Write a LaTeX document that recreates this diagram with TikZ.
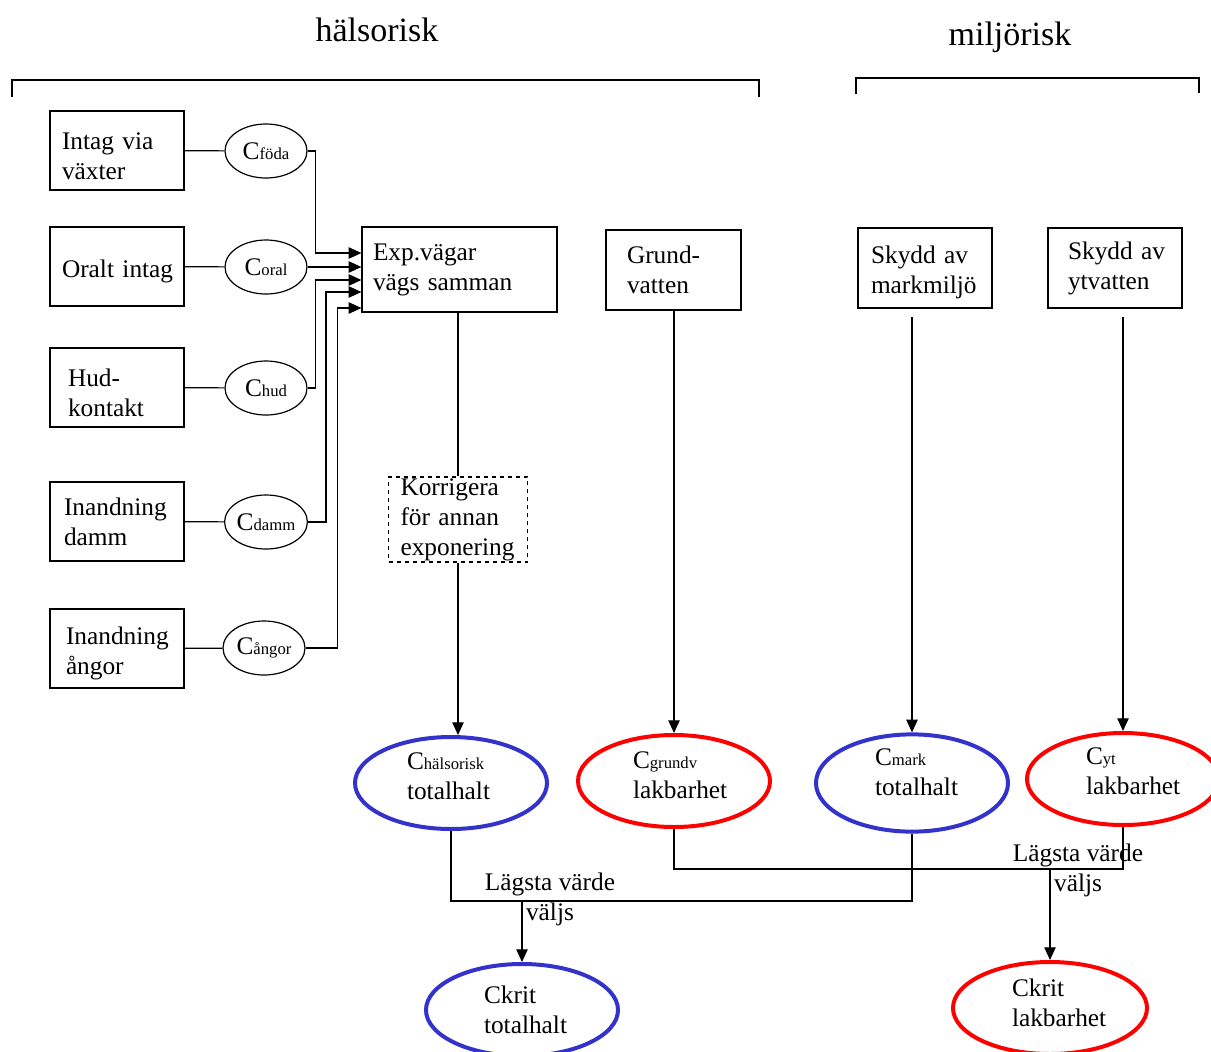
\documentclass[tikz,border=0pt]{standalone}
\usepackage{fontspec}
\setmainfont{Liberation Serif}
\usetikzlibrary{shapes.geometric,arrows.meta,calc}
\definecolor{totblue}{RGB}{51,51,204}
\newcommand\sm[1]{{\fontsize{12.5}{14}\selectfont #1}}
\newcommand\dn{\mbox{}\\[-2pt]}
\hyphenpenalty=10000

\begin{document}
\begin{tikzpicture}[x=0.75pt,y=-0.75pt,line width=0.9pt,
  font=\fontsize{19}{22.5}\selectfont,
  box/.style={draw,rectangle,minimum width=100.5pt,minimum height=59.25pt,align=left,inner sep=0pt},
  cval/.style={draw,ellipse,minimum width=61.5pt,minimum height=40.5pt,inner sep=0pt},
  big/.style={draw,ellipse,line width=3pt,minimum width=144pt,minimum height=69pt,align=left,inner sep=0pt},
  title/.style={font=\fontsize{25.5}{30}\selectfont},
  arr/.style={-{Triangle[length=9.5pt,width=8.5pt]}}]
\useasboundingbox (0,0) rectangle (1211,1051);

\node[title] (halstit) at (377,30) {hälsorisk};
\node[title] (miljtit) at (1010,37) {miljörisk};
\draw (12,97) |- (759,80) -- (759,97);
\draw (856,94) |- (1199,78) -- (1199,93);

% exponeringsvägar
\node[box,text width=82.5pt] (intag) at (117,150.5) {\dn Intag via\\växter};
\node[box,text width=82.5pt] (oral) at (117,266.5) {\dn Oralt~intag};
\node[box,text width=73.5pt] (hud) at (117,387.5) {\dn Hud-\\kontakt};
\node[box,text width=79.5pt] (damm) at (117,521.5) {Inandning\\damm};
\node[box,text width=76.5pt] (angor) at (117,648.5) {\dn Inandning\\ångor};

\node[cval] (cfoda) at (266,151) {C\sm{föda}};
\node[cval] (coral) at (266,267) {C\sm{oral}};
\node[cval] (chud) at (266,388) {C\sm{hud}};
\node[cval] (cdamm) at (266,522) {C\sm{damm}};
\node[cval] (cangor) at (264,648) {C\sm{ångor}};

\node[box,minimum width=146.25pt,minimum height=63.75pt,text width=129.75pt] (exp) at (459.5,269.5) {Exp.vägar\\vägs samman};
\node[box,dashed,minimum width=104.25pt,minimum height=63.75pt,text width=86.25pt] (korr) at (458,519.5) {Korrigera\\för annan\\exponering};

\node[box,minimum width=101.25pt,minimum height=60pt,text width=69.75pt] (grund) at (673.5,270) {Grund-\\vatten};
\node[box,minimum height=60pt,text width=81pt] (skm) at (925,268) {\dn Skydd~av\\markmiljö};
\node[box,minimum height=60pt,text width=70.5pt] (sky) at (1115,268) {Skydd~av\\ytvatten};

% riktvärden
\node[big,totblue,text=black,text width=66pt] (halsa) at (451,783) {C\sm{hälsorisk}\\totalhalt\\[-12pt]\mbox{}};
\node[big,red,text=black,text width=61.5pt] (grundv) at (674,781) {C\sm{grundv}\\lakbarhet\\[-13pt]\mbox{}};
\node[big,totblue,text=black,text width=55.5pt] (cmark) at (912,783) {C\sm{mark}\\totalhalt\\[-6pt]\mbox{}};
\node[big,red,text=black,text width=55.5pt] (cyt) at (1123,779) {C\sm{yt}\\lakbarhet\\[-10pt]\mbox{}};
\node[big,totblue,text=black,text width=57pt] (ckrit1) at (522,1010) {Ckrit\\totalhalt};
\node[big,red,text=black,text width=57pt,minimum width=145.5pt] (ckrit2) at (1050,1008) {Ckrit\\lakbarhet\\[-14pt]\mbox{}};

\draw (intag) -- (cfoda);
\draw (oral) -- (coral);
\draw (hud) -- (chud);
\draw (damm) -- (cdamm);
\draw (angor) -- (cangor);

\draw[arr] (cfoda.east) -- ++(8,0) |- ($(exp.west)+(0,-16.5)$);
\draw[arr] (coral.east) -- ($(exp.west)+(0,-2.5)$);
\draw[arr] (chud.east) -- ++(8,0) |- ($(exp.west)+(0,10.5)$);
\draw[arr] (cdamm.east) -- ++(18,0) |- ($(exp.west)+(0,22.5)$);
\draw[arr] (cangor.east) -- ++(32,0) |- ($(exp.west)+(0,38.5)$);

\draw (korr.north |- exp.south) -- (korr.north);
\draw[arr] (korr.south) -- (korr.south |- halsa.north);
\draw[arr] (grund.south -| grundv.north) -- (grundv.north);
\draw[arr] ($(skm.south -| cmark.north)+(0,8)$) -- (cmark.north);
\draw[arr] ($(sky.south -| cyt.north)+(0,8)$) -- (cyt.north);

% lägsta värde
\draw (halsa.south) -- ++(0,70) coordinate (j1) -| (cmark.south);
\draw[arr] (j1 -| ckrit1.north) -- (ckrit1.north);
\draw (grundv.south) -- ++(0,40) coordinate (j2) -| (cyt.south);
\draw[arr] (j2 -| ckrit2.north) -- (ckrit2.north);
\node[align=center,inner sep=0pt] (lagsta1) at (550,899) {Lägsta värde\\väljs};
\node[align=center,inner sep=0pt] (lagsta2) at (1078,870) {Lägsta värde\\väljs};
\end{tikzpicture}
\end{document}
